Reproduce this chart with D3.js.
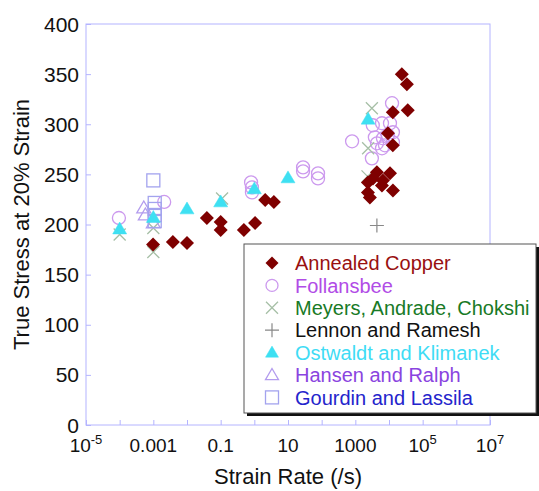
<!DOCTYPE html>
<html>
<head>
<meta charset="utf-8">
<script src="https://cdn.jsdelivr.net/npm/d3@7"></script>
<style>
  body { margin: 0; background: #fff; }
  svg text { font-family: Arial, "Liberation Sans", Helvetica, sans-serif; }
</style>
</head>
<body>
<svg id="chart" width="539" height="491"></svg>
<script>
// strain rate (/s), true stress at 20% strain (MPa)
var annealedCopper = [
    [0.00098, 180], [0.0038, 182.5], [0.01, 181.5], [0.039, 206.5], [0.1, 202.5], [0.1, 194.5],
    [0.49, 194.5], [1.05, 201.5], [2.1, 224.5], [3.8, 222.5],
    [24000, 350], [34000, 340], [36000, 314], [13000, 312], [9300, 291], [13000, 279],
    [4370, 252], [10700, 251], [2370, 242], [6170, 239], [13100, 234], [2370, 232],
    [2700, 227], [3330, 246], [6600, 244]
];
var follansbee = [
    [0.000095, 206.5], [0.0021, 222.5], [0.8, 242], [0.85, 237], [0.85, 232],
    [28, 257], [28, 253], [78, 251], [78, 246], [800, 283],
    [12300, 321], [10700, 301], [6200, 301], [3300, 299], [3800, 287], [6600, 286],
    [4400, 281], [7600, 279], [13100, 282], [6200, 276], [9300, 289], [13100, 292], [3100, 266]
];
var meyers = [
    [0.0001, 190], [0.001, 172.5], [0.001, 196.5], [0.11, 226],
    [3100, 316], [2400, 276], [2300, 248]
];
var lennon = [
    [4370, 199]
];
var ostwaldt = [
    [0.0001, 195.5], [0.001, 207], [0.01, 215.5], [0.1, 222.5], [1, 235.5], [10, 246.5], [2400, 305]
];
var hansen = [
    [0.00052, 216.5], [0.00058, 209.5], [0.001, 201.5]
];
var gourdin = [
    [0.001, 244], [0.0011, 221.5], [0.0011, 215.5], [0.0011, 209.5], [0.0011, 203.5]
];

var legendNames = ["Annealed Copper", "Follansbee", "Meyers, Andrade, Chokshi", "Lennon and Ramesh",
    "Ostwaldt and Klimanek", "Hansen and Ralph", "Gourdin and Lassila"];
var yTicks = [0, 50, 100, 150, 200, 250, 300, 350, 400];
var xTickLabels = [[1e-5, "10", "-5"], [1e-3, "0.001", ""], [0.1, "0.1", ""], [10, "10", ""],
    [1000, "1000", ""], [1e5, "10", "5"], [1e7, "10", "7"]];

var svg = d3.select("#chart");
var plotLeft = 86, plotRight = 490, plotTop = 24, plotBottom = 425;
var frameColor = "#b4b4ff";

var x = d3.scaleLog().domain([1e-5, 1e7]).range([plotLeft, plotRight]);
var y = d3.scaleLinear().domain([0, 400]).range([plotBottom, plotTop]);

// frame
svg.append("rect")
    .attr("x", plotLeft).attr("y", plotTop)
    .attr("width", plotRight - plotLeft).attr("height", plotBottom - plotTop)
    .attr("fill", "none").attr("stroke", frameColor).attr("stroke-width", 1);

// x ticks every decade, pointing inward
var decades = d3.range(-5, 8).map(function(p) { return Math.pow(10, p); });
var xAxis = d3.axisBottom(x).tickValues(decades).tickSizeInner(-5).tickSizeOuter(0).tickFormat("");
var gx = svg.append("g").attr("transform", "translate(0," + plotBottom + ")").call(xAxis);
gx.select(".domain").remove();
gx.selectAll(".tick line").attr("stroke", frameColor);

var yAxis = d3.axisLeft(y).tickValues(yTicks).tickSizeInner(-5).tickSizeOuter(0).tickFormat("");
var gy = svg.append("g").attr("transform", "translate(" + plotLeft + ",0)").call(yAxis);
gy.select(".domain").remove();
gy.selectAll(".tick line").attr("stroke", frameColor);

// y tick labels
svg.append("g").selectAll("text").data(yTicks).enter().append("text")
    .attr("x", plotLeft - 7)
    .attr("y", function(d) { return y(d); })
    .attr("dy", "0.36em")
    .attr("text-anchor", "end")
    .attr("font-size", 21)
    .attr("fill", "#111")
    .text(function(d) { return d; });

// x tick labels, with superscripts
var xl = svg.append("g").selectAll("text").data(xTickLabels).enter().append("text")
    .attr("x", function(d) { return x(d[0]); })
    .attr("y", 452)
    .attr("text-anchor", "middle")
    .attr("font-size", 19)
    .attr("fill", "#111");
xl.append("tspan").text(function(d) { return d[1]; });
xl.append("tspan")
    .attr("dy", -8)
    .attr("font-size", 13)
    .text(function(d) { return d[2]; });

// axis titles
svg.append("text")
    .attr("x", (plotLeft + plotRight) / 2)
    .attr("y", 484)
    .attr("text-anchor", "middle")
    .attr("font-size", 22)
    .attr("fill", "#111")
    .text("Strain Rate (/s)");

svg.append("text")
    .attr("transform", "translate(29," + ((plotTop + plotBottom) / 2) + ") rotate(-90)")
    .attr("text-anchor", "middle")
    .attr("font-size", 22)
    .attr("fill", "#111")
    .text("True Stress at 20% Strain");

// marker helpers
function diamond(g, cx, cy, s, color) {
    g.append("path")
        .attr("d", "M" + cx + "," + (cy - s) + "L" + (cx + s) + "," + cy + "L" + cx + "," + (cy + s) + "L" + (cx - s) + "," + cy + "Z")
        .attr("fill", color);
}
function circle(g, cx, cy, r, color) {
    g.append("circle").attr("cx", cx).attr("cy", cy).attr("r", r)
        .attr("fill", "none").attr("stroke", color).attr("stroke-width", 1.3);
}
function times(g, cx, cy, s, color) {
    g.append("path")
        .attr("d", "M" + (cx - s) + "," + (cy - s) + "L" + (cx + s) + "," + (cy + s) + "M" + (cx - s) + "," + (cy + s) + "L" + (cx + s) + "," + (cy - s))
        .attr("stroke", color).attr("stroke-width", 1.3).attr("fill", "none");
}
function plus(g, cx, cy, s, color) {
    g.append("path")
        .attr("d", "M" + (cx - s) + "," + cy + "L" + (cx + s) + "," + cy + "M" + cx + "," + (cy - s) + "L" + cx + "," + (cy + s))
        .attr("stroke", color).attr("stroke-width", 1.2).attr("fill", "none");
}
function triangle(g, cx, cy, s, color, filled) {
    g.append("path")
        .attr("d", "M" + cx + "," + (cy - s) + "L" + (cx + s) + "," + (cy + s * 0.7) + "L" + (cx - s) + "," + (cy + s * 0.7) + "Z")
        .attr("fill", filled ? color : "none")
        .attr("stroke", color).attr("stroke-width", filled ? 0.5 : 1.3);
}
function square(g, cx, cy, s, color) {
    g.append("rect").attr("x", cx - s).attr("y", cy - s).attr("width", 2 * s).attr("height", 2 * s)
        .attr("fill", "none").attr("stroke", color).attr("stroke-width", 1.3);
}

var series = [
    {data: follansbee, draw: function(g, a, b) { circle(g, a, b, 6.5, "#cc99ee"); }},
    {data: meyers, draw: function(g, a, b) { times(g, a, b, 6, "#a6bfa6"); }},
    {data: lennon, draw: function(g, a, b) { plus(g, a, b, 7, "#888"); }},
    {data: hansen, draw: function(g, a, b) { triangle(g, a, b, 7, "#b39cee", false); }},
    {data: gourdin, draw: function(g, a, b) { square(g, a, b, 6.5, "#a3a3ee"); }},
    {data: ostwaldt, draw: function(g, a, b) { triangle(g, a, b, 7, "#3ee0f2", true); }},
    {data: annealedCopper, draw: function(g, a, b) { diamond(g, a, b, 7, "#7f0000"); }}
];

var plot = svg.append("g");
series.forEach(function(s) {
    var g = plot.append("g");
    s.data.forEach(function(d) { s.draw(g, x(d[0]), y(d[1])); });
});

// legend
var legendColors = ["#991010", "#b14ce6", "#187a26", "#111", "#3fdcf5", "#8a44e0", "#2424cc"];
var lx = 244, ly = 244, lw = 292, lh = 169;
svg.append("rect").attr("x", lx + 3).attr("y", ly + 3).attr("width", lw).attr("height", lh).attr("fill", "#111");
svg.append("rect").attr("x", lx).attr("y", ly).attr("width", lw).attr("height", lh)
    .attr("fill", "#fff").attr("stroke", "#555").attr("stroke-width", 1);

var legendDraw = [
    function(g, a, b) { diamond(g, a, b, 6.5, "#7f0000"); },
    function(g, a, b) { circle(g, a, b, 6, "#cc99ee"); },
    function(g, a, b) { times(g, a, b, 6, "#a6bfa6"); },
    function(g, a, b) { plus(g, a, b, 7, "#888"); },
    function(g, a, b) { triangle(g, a, b, 6.5, "#3ee0f2", true); },
    function(g, a, b) { triangle(g, a, b, 6.5, "#b39cee", false); },
    function(g, a, b) { square(g, a, b, 6.5, "#a3a3ee"); }
];
var lg = svg.append("g");
legendNames.forEach(function(name, i) {
    var rowY = 263 + i * 22.4;
    legendDraw[i](lg, 272, rowY);
    lg.append("text")
        .attr("x", 295)
        .attr("y", rowY)
        .attr("dy", "0.36em")
        .attr("font-size", 20)
        .attr("fill", legendColors[i])
        .text(name);
});
</script>
</body>
</html>
